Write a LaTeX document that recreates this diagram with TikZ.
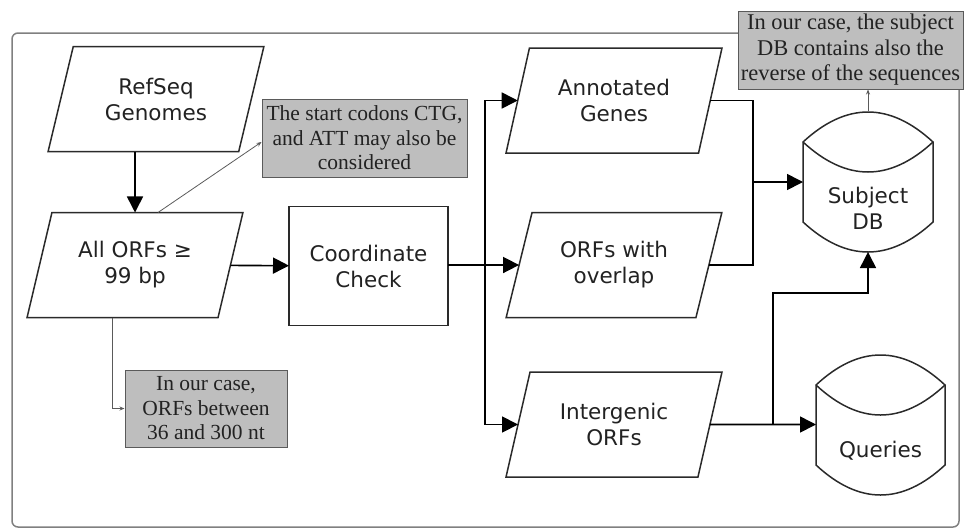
\documentclass[tikz,border=0pt]{standalone}
\usepackage{fontspec}
\newfontfamily\nodefont{DejaVu Sans}
\newfontfamily\notefont{Liberation Serif}
\usetikzlibrary{shapes.geometric,arrows.meta,calc}
\definecolor{notegray}{HTML}{BEBEBE}
\definecolor{notedraw}{HTML}{5A5A5A}
\definecolor{shapedraw}{HTML}{2A2A2A}
\definecolor{framegray}{HTML}{808080}
\definecolor{txt}{HTML}{222222}
\newcommand\dbshape[5]{% L, R, side top, side bottom, sag
  \draw[cylstyle] (#1,#3) .. controls ({#1+(#2-#1)/3},{#3-4*#5/3}) and ({#2-(#2-#1)/3},{#3-4*#5/3}) .. (#2,#3)
    -- (#2,#4) .. controls ({#2-(#2-#1)/3},{#4+4*#5/3}) and ({#1+(#2-#1)/3},{#4+4*#5/3}) .. (#1,#4) -- cycle;
  \draw[cylstyle] (#1,#3) .. controls ({#1+(#2-#1)/3},{#3+4*#5/3}) and ({#2-(#2-#1)/3},{#3+4*#5/3}) .. (#2,#3);
}
\begin{document}
\begin{tikzpicture}[x=1pt,y=-1pt,
  para/.style={trapezium, trapezium left angle=70, trapezium right angle=110,
    trapezium stretches=true, minimum width=216pt, minimum height=105pt,
    draw=shapedraw, line width=1.5pt, inner sep=0pt, outer sep=0pt, align=center,
    text=txt, font=\nodefont\fontsize{21.5}{26}\selectfont},
  procbox/.style={rectangle, draw=shapedraw, line width=1.5pt, minimum width=159pt,
    minimum height=119pt, inner sep=0pt, outer sep=0pt, align=center, text=txt,
    font=\nodefont\fontsize{21.5}{26}\selectfont},
  dbframe/.style={rectangle, draw=none, inner sep=0pt, outer sep=0pt},
  dbtext/.style={align=center, text=txt, inner sep=0pt, font=\nodefont\fontsize{21.5}{26}\selectfont},
  notebox/.style={rectangle, draw=notedraw, fill=notegray, line width=1pt, inner sep=0pt,
    align=center, text=txt, font=\notefont\fontsize{21.5}{24.5}\selectfont},
  flow/.style={draw=black, line width=1.6pt, -{Triangle[length=16pt,width=16pt]}},
  plainline/.style={draw=black, line width=1.6pt},
  noteline/.style={draw=notedraw, line width=0.8pt, -{Stealth[length=5pt,width=4pt]}},
  cylstyle/.style={draw=shapedraw, line width=1.5pt},
  framestyle/.style={draw=framegray, line width=1.5pt, rounded corners=6pt}
]
\useasboundingbox (0,0) rectangle (965,528);
% outer frame
\draw[framestyle] (12,33) rectangle (959,527);

% process nodes
\node[para] (refseq) at (156,99) {RefSeq\\Genomes};
\node[para] (orfs) at (135,265) {All ORFs ≥\\99 bp};
\node[procbox] (cc) at (368.5,266) {Coordinate\\Check};
\node[para] (ann) at (614,100.5) {Annotated\\Genes};
\node[para] (ov) at (614,265) {ORFs with\\overlap};
\node[para] (ig) at (614,424.5) {Intergenic\\ORFs};

% databases
\node[dbframe, minimum width=130pt, minimum height=141pt] (sdb) at (868,181.5) {};
\dbshape{803}{933}{142}{222}{30}
\node[dbtext] (sdbt) at (868,208) {Subject\\DB};
\node[dbframe, minimum width=129pt, minimum height=141pt] (q) at (880.5,424) {};
\dbshape{816}{945}{385}{465}{30}
\node[dbtext] (qt) at (880.5,451) {Queries};

% notes
\node[notebox, minimum width=205pt, minimum height=78pt] (n1) at (364.5,138)
  {The start codons CTG,\\and ATT may also be\\considered};
\node[notebox, minimum width=162pt, minimum height=77pt] (n2) at (206,408.5)
  {In our case,\\ORFs between\\36 and 300 nt};
\node[notebox, minimum width=225pt, minimum height=78pt,
  font=\notefont\fontsize{22.5}{25.5}\selectfont] (n3) at (850.5,50)
  {In our case, the subject\\DB contains also the\\reverse of the sequences};

% junction coordinates
\coordinate (j1) at (485,265);
\coordinate (m) at (753,182);
\coordinate (j3) at (773,424.5);
\coordinate (k) at (868,293);

% flow connectors
\draw[flow] (refseq.south -| orfs.north) -- (orfs.north);
\draw[flow] (orfs) -- (cc);
\draw[plainline] (cc.east |- j1) -- (j1);
\draw[flow] (j1) |- (ann);
\draw[flow] (j1) -- (ov);
\draw[flow] (j1) |- (ig);
\draw[plainline] (ann) -| (m);
\draw[plainline] (m) |- (ov);
\draw[flow] (m) -- (m -| sdb.west);
\draw[flow] (ig) -- (ig -| q.west);
\draw[flow] (j3) |- (k) -- (sdb.south);

% note connectors
\draw[noteline] ([xshift=23pt]orfs.north) -- ([yshift=-4pt]n1.west);
\draw[noteline] ([xshift=-23pt]orfs.south) |- (n2.west);
\draw[noteline] (sdb.north) -- (sdb.north |- n3.south);
\end{tikzpicture}
\end{document}
